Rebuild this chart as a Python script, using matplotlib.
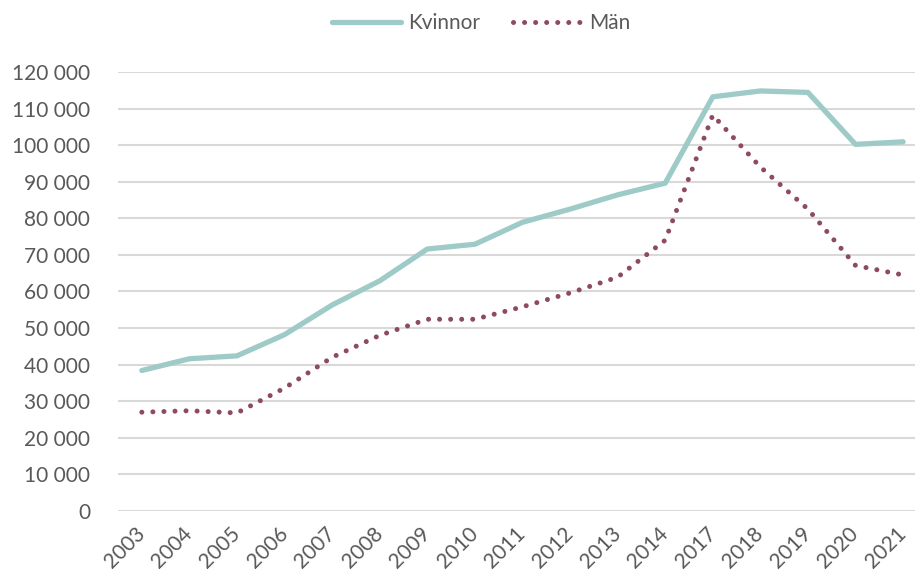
import matplotlib
matplotlib.use("Agg")
import matplotlib.pyplot as plt
import numpy as np

years = ["2003", "2004", "2005", "2006", "2007", "2008", "2009", "2010", "2011",
         "2012", "2013", "2014", "2017", "2018", "2019", "2020", "2021"]
kvinnor = [38400, 41600, 42400, 48200, 56300, 62900, 71600, 72900, 78900,
           82500, 86400, 89600, 113200, 114800, 114400, 100200, 100900]
man = [27000, 27400, 26800, 33600, 42000, 48000, 52400, 52400, 55800,
       59600, 63900, 74000, 108200, 94000, 82500, 67100, 64500]
yticks = list(range(0, 120001, 10000))

TEAL = "#9ecbc8"
WINE = "#8e4a63"
GREY = "#595959"

plt.rcParams["font.family"] = ["Lato", "DejaVu Sans"]

fig = plt.figure(figsize=(9.15, 5.8), dpi=100)
ax = fig.add_axes([0.129, 0.119, 0.871, 0.757])

x = np.arange(len(years))
ax.plot(x, kvinnor, color=TEAL, linewidth=3.8, solid_capstyle="round",
        solid_joinstyle="round", label="Kvinnor", zorder=3)
ax.plot(x, man, color=WINE, linewidth=3.6, linestyle=(0, (0.01, 2.2)),
        dash_capstyle="round", label="Män", zorder=3)

ax.set_ylim(0, 120000)
ax.set_xlim(-0.5, 16.25)
ax.set_yticks(yticks)
ax.set_yticklabels([f"{v:,}".replace(",", " ") for v in yticks],
                   fontsize=15, color=GREY)
ax.set_xticks(x)
ax.set_xticklabels(years, rotation=45, ha="right", va="center",
                   rotation_mode="anchor", fontsize=15, color=GREY)
ax.tick_params(axis="both", length=0)
ax.tick_params(axis="y", pad=20)
ax.tick_params(axis="x", pad=14)
ax.grid(axis="y", color="#d9d9d9", linewidth=1.5, zorder=0)
ax.set_axisbelow(True)
for s in ax.spines.values():
    s.set_visible(False)

leg = fig.legend(loc="upper center", bbox_to_anchor=(0.526, 1.01), ncol=2,
                 frameon=False, fontsize=15, handlelength=3.3,
                 columnspacing=1.6, handletextpad=0.35)
for t in leg.get_texts():
    t.set_color(GREY)

fig.savefig("out.png", dpi=100)
